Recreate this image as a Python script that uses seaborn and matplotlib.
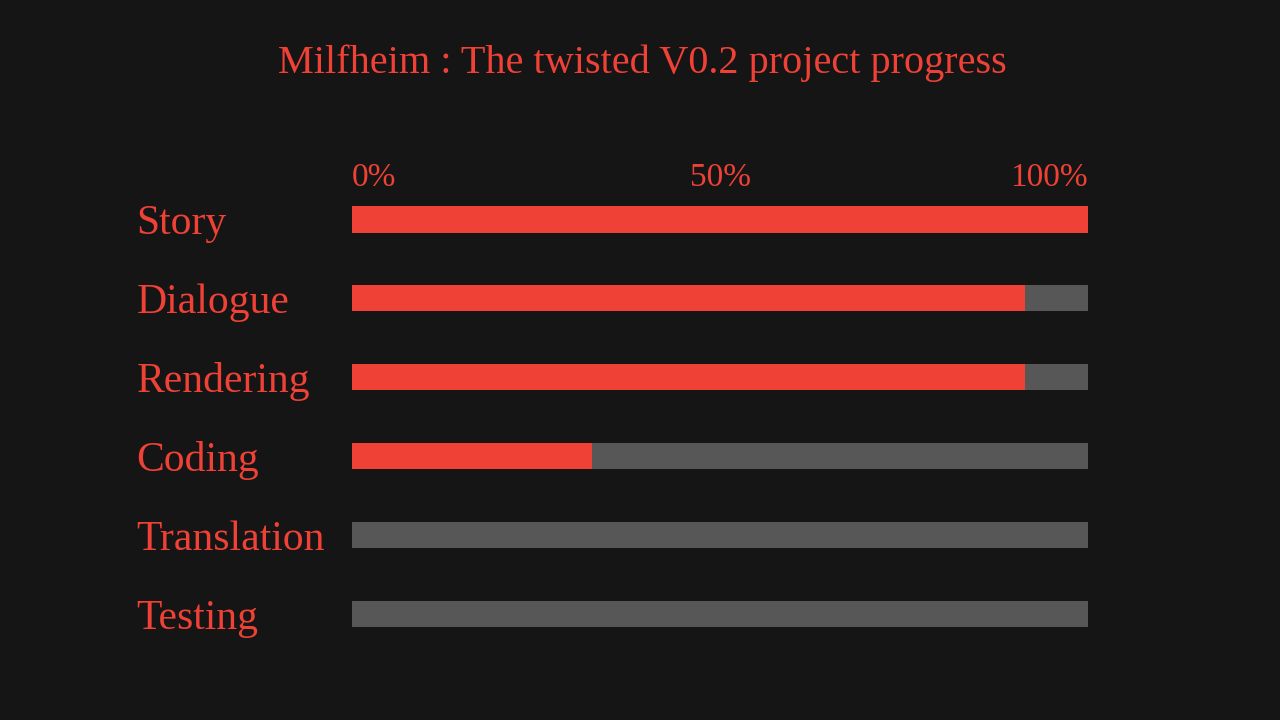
import matplotlib
matplotlib.use("Agg")
import matplotlib.pyplot as plt
import seaborn as sns
import pandas as pd

tasks = ["Story", "Dialogue", "Rendering", "Coding", "Translation", "Testing"]
done = [100, 91.5, 91.5, 32.6, 0, 0]
total = [100, 100, 100, 100, 100, 100]
tick_values = [0, 50, 100]
tick_labels = ["0%", "50%", "100%"]

BG = "#151515"
RED = "#ef4136"
GREY = "#575757"


def plot(out_file_path):
    sns.set_theme(style="dark")
    plt.rcParams["font.family"] = ["Liberation Serif", "DejaVu Serif"]

    df = pd.DataFrame({"task": tasks, "done": done, "total": total})

    fig = plt.figure(figsize=(12.8, 7.2), dpi=100, facecolor=BG)
    ax = fig.add_axes([0.275, 0.092, 0.575, 0.658])
    ax.set_facecolor(BG)

    sns.barplot(data=df, x="total", y="task", orient="h", color=GREY,
                width=0.33, saturation=1, linewidth=0, ax=ax)
    sns.barplot(data=df, x="done", y="task", orient="h", color=RED,
                width=0.33, saturation=1, linewidth=0, ax=ax)

    ax.set_xlim(0, 100)
    ax.set_ylim(5.5, -0.5)
    ax.set_xlabel("")
    ax.set_ylabel("")
    ax.set_xticks([])
    for s in ax.spines.values():
        s.set_visible(False)
    ax.grid(False)

    # category labels, left aligned
    ax.tick_params(axis="y", length=0, pad=155, labelsize=30, labelcolor=RED)
    for lab in ax.get_yticklabels():
        lab.set_horizontalalignment("left")

    # percent labels above the first bar
    aligns = ["left", "center", "right"]
    for v, t, ha in zip(tick_values, tick_labels, aligns):
        ax.text(v, -0.42, t, ha=ha, va="baseline", fontsize=24, color=RED,
                clip_on=False)

    fig.suptitle("Milfheim : The twisted V0.2 project progress", x=0.502,
                 y=1 - 44 / 720, va="top", fontsize=29, color=RED)

    plt.savefig(out_file_path, dpi=100, facecolor=BG)


if __name__ == "__main__":
    plot("out.png")
